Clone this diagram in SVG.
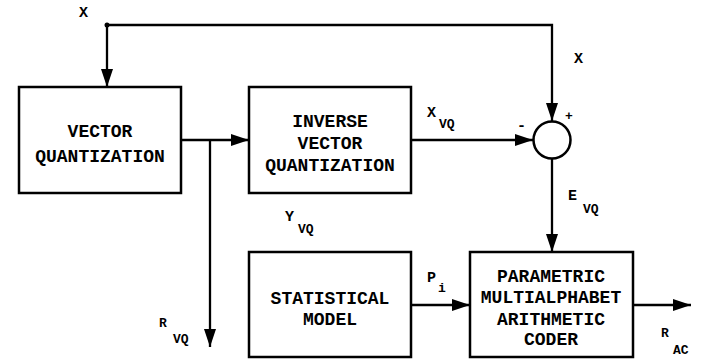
<svg xmlns="http://www.w3.org/2000/svg" width="711" height="363" viewBox="0 0 711 363">
<style>
.box{fill:#fff;stroke:#000;stroke-width:2.5}
.ln{fill:none;stroke:#000;stroke-width:2.3}
.t{font-family:"Liberation Mono","Courier New",monospace;font-weight:bold;font-size:18px;text-anchor:middle;fill:#000}
.l{font-family:"Liberation Mono","Courier New",monospace;font-weight:bold;font-size:15px;fill:#000}
.s{font-family:"Liberation Mono","Courier New",monospace;font-weight:bold;font-size:13px;fill:#000}
</style>
<defs>
<marker id="ah" viewBox="0 0 18 12" refX="18" refY="6" markerWidth="18" markerHeight="12" markerUnits="userSpaceOnUse" orient="auto">
<path d="M0,0 L18,6 L0,12 Z" fill="#000"/>
</marker>
</defs>
<rect width="711" height="363" fill="#fff"/>
<g id="connectors">
<polyline class="ln" points="107,25 552,25 552,121" marker-end="url(#ah)"/>
<line class="ln" x1="107" y1="25" x2="107" y2="87" marker-end="url(#ah)"/>
<circle cx="107" cy="25" r="2.5" fill="#000"/>
<line class="ln" x1="181" y1="140" x2="249" y2="140" marker-end="url(#ah)"/>
<line class="ln" x1="210" y1="140" x2="210" y2="347" marker-end="url(#ah)"/>
<line class="ln" x1="411" y1="140" x2="533" y2="140" marker-end="url(#ah)"/>
<line class="ln" x1="552" y1="159" x2="552" y2="252" marker-end="url(#ah)"/>
<line class="ln" x1="411" y1="305" x2="470" y2="305" marker-end="url(#ah)"/>
<line class="ln" x1="633" y1="305" x2="691" y2="305" marker-end="url(#ah)"/>
<text class="l" x="79" y="17">X</text>
<text class="l" x="574" y="63">X</text>
<text class="l" x="427" y="117">X</text><text class="s" x="439" y="128">VQ</text>
<text class="l" x="285" y="221">Y</text><text class="s" x="298" y="233">VQ</text>
<text class="l" x="568" y="200">E</text><text class="s" x="583" y="213">VQ</text>
<text class="l" x="427" y="282">P</text><text class="s" x="438" y="292">i</text>
<text class="s" x="159" y="327">R</text><text class="s" x="173" y="343">VQ</text>
<text class="s" x="661" y="337">R</text><text class="s" x="673" y="354">AC</text>
<text class="l" x="517" y="130">-</text>
<text class="s" x="565" y="120">+</text>
</g>
<g id="vq">
<rect class="box" x="19" y="87" width="162" height="106"/>
<text class="t" x="100" y="137">VECTOR</text>
<text class="t" x="100" y="162">QUANTIZATION</text>
</g>
<g id="ivq">
<rect class="box" x="249" y="87" width="162" height="106"/>
<text class="t" x="330" y="127">INVERSE</text>
<text class="t" x="330" y="149">VECTOR</text>
<text class="t" x="330" y="171">QUANTIZATION</text>
</g>
<g id="sum">
<circle cx="552" cy="140" r="18.5" fill="#fff" stroke="#000" stroke-width="2.5"/>
</g>
<g id="sm">
<rect class="box" x="249" y="252" width="162" height="105"/>
<text class="t" x="330" y="304">STATISTICAL</text>
<text class="t" x="330" y="325">MODEL</text>
</g>
<g id="pmac">
<rect class="box" x="470" y="252" width="163" height="105"/>
<text class="t" x="551" y="282">PARAMETRIC</text>
<text class="t" x="551" y="303">MULTIALPHABET</text>
<text class="t" x="551" y="325">ARITHMETIC</text>
<text class="t" x="551" y="345">CODER</text>
</g>
</svg>
